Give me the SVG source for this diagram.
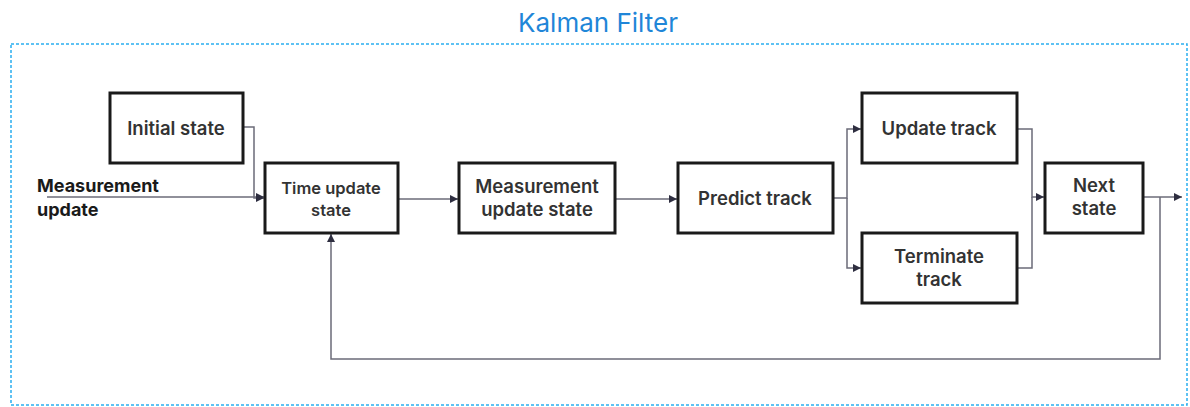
<svg xmlns="http://www.w3.org/2000/svg" width="1190" height="407" viewBox="0 0 1190 407">
  <style>
    .frame { fill: none; stroke: #2aaef0; stroke-width: 1.5; stroke-dasharray: 3 2; }
    .title { font-family: Inter, "Liberation Sans", Arial, sans-serif; font-size: 26px; fill: #1f86d8; text-anchor: middle; }
    .box { fill: #ffffff; stroke: #1a1a1a; stroke-width: 3; }
    .lbl { font-family: Inter, "Liberation Sans", Arial, sans-serif; font-size: 18.5px; font-weight: 600; fill: #333333; text-anchor: middle; }
    .lbl.sm { font-size: 16.5px; }
    .side { font-family: Inter, "Liberation Sans", Arial, sans-serif; font-size: 18px; font-weight: 700; fill: #1a1a1a; }
    .wire { fill: none; stroke: #6b6b78; stroke-width: 1.5; }
  </style>
  <defs>
    <marker id="arrow" viewBox="0 0 10 10" refX="10" refY="5" markerWidth="8" markerHeight="8" markerUnits="userSpaceOnUse" orient="auto">
      <path d="M0,0 L10,5 L0,10 z" fill="#2e2e40"/>
    </marker>
  </defs>

  <rect width="1190" height="407" fill="#ffffff"/>

  <!-- outer dashed frame and heading -->
  <rect class="frame" x="11" y="44" width="1176" height="361"/>
  <text class="title" x="598" y="32">Kalman Filter</text>

  <!-- external input label -->
  <text class="side" x="37" y="192">Measurement</text>
  <text class="side" x="37" y="216">update</text>

  <!-- connectors -->
  <g id="connectors">
    <path class="wire" d="M243,127 H254 V198 H264" marker-end="url(#arrow)"/>
    <path class="wire" d="M47,197 H264" marker-end="url(#arrow)"/>
    <path class="wire" d="M398,199 H458" marker-end="url(#arrow)"/>
    <path class="wire" d="M616,199 H677" marker-end="url(#arrow)"/>
    <path class="wire" d="M834,198 H847 V129 H861" marker-end="url(#arrow)"/>
    <path class="wire" d="M847,198 V268 H861" marker-end="url(#arrow)"/>
    <path class="wire" d="M1018,129 H1032 V197 H1044" marker-end="url(#arrow)"/>
    <path class="wire" d="M1018,268 H1032 V197"/>
    <path class="wire" d="M1144,197 H1182" marker-end="url(#arrow)"/>
    <path class="wire" d="M1160,197 V359 H331 V234" marker-end="url(#arrow)"/>
  </g>

  <!-- nodes -->
  <g id="initial-state">
    <rect class="box" x="110" y="93" width="133" height="70"/>
    <text class="lbl" x="176" y="135">Initial state</text>
  </g>
  <g id="time-update-state">
    <rect class="box" x="265" y="163" width="133" height="70"/>
    <text class="lbl sm" x="331" y="194">Time update</text>
    <text class="lbl sm" x="331" y="216">state</text>
  </g>
  <g id="measurement-update-state">
    <rect class="box" x="459" y="163" width="156" height="70"/>
    <text class="lbl" x="537" y="193">Measurement</text>
    <text class="lbl" x="537" y="216">update state</text>
  </g>
  <g id="predict-track">
    <rect class="box" x="678" y="163" width="155" height="70"/>
    <text class="lbl" x="755" y="205">Predict track</text>
  </g>
  <g id="update-track">
    <rect class="box" x="862" y="93" width="155" height="70"/>
    <text class="lbl" x="939" y="135">Update track</text>
  </g>
  <g id="terminate-track">
    <rect class="box" x="862" y="233" width="155" height="70"/>
    <text class="lbl" x="939" y="263">Terminate</text>
    <text class="lbl" x="939" y="286">track</text>
  </g>
  <g id="next-state">
    <rect class="box" x="1045" y="163" width="98" height="70"/>
    <text class="lbl" x="1094" y="192">Next</text>
    <text class="lbl" x="1094" y="215">state</text>
  </g>
</svg>
